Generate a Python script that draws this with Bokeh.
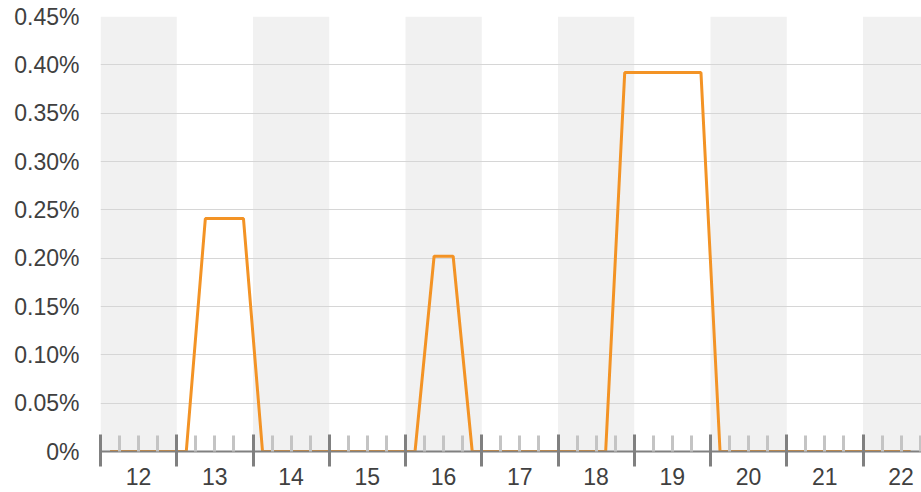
from bokeh.plotting import figure
from bokeh.models import LinearAxis, FixedTicker, Range1d, ColumnDataSource, CustomJSTickFormatter
from bokeh.embed import file_html
from bokeh.resources import INLINE

# ---- data ----
hour_labels = ["12", "13", "14", "15", "16", "17", "18", "19", "20", "21", "22"]
quarters_per_hour = 4
# share (in %) for each quarter-hour
share_pct = [
    0, 0, 0, 0,                  # 12
    0, 0.241, 0.241, 0.241,      # 13
    0, 0, 0, 0,                  # 14
    0, 0, 0, 0,                  # 15
    0, 0.202, 0.202, 0,          # 16
    0, 0, 0, 0,                  # 17
    0, 0, 0, 0.392,              # 18
    0.392, 0.392, 0.392, 0.392,  # 19
    0, 0, 0, 0,                  # 20
    0, 0, 0, 0,                  # 21
    0, 0, 0,                     # 22
]
y_ticks = [0, 0.05, 0.10, 0.15, 0.20, 0.25, 0.30, 0.35, 0.40, 0.45]
y_tick_labels = ["0%", "0.05%", "0.10%", "0.15%", "0.20%", "0.25%", "0.30%", "0.35%", "0.40%", "0.45%"]

n_hours = len(hour_labels)
x_pos = [(i + 0.5) / quarters_per_hour for i in range(len(share_pct))]

FONT = "Liberation Sans"
TEXT = "#404040"

W, H = 921, 492
LEFT, TOP, BOTTOM = 100, 16, 41
x_end = (W - LEFT) / 76.25

p = figure(width=W, height=H, output_backend="svg", toolbar_location=None,
           x_range=Range1d(0, x_end), y_range=Range1d(0, 0.45),
           min_border_left=LEFT, min_border_right=0, min_border_top=TOP,
           min_border_bottom=BOTTOM)
p.outline_line_color = None
p.background_fill_color = "white"
p.border_fill_color = "white"

# alternating bands
band_left = [i for i in range(n_hours) if i % 2 == 0]
band_src = ColumnDataSource(dict(left=band_left, right=[b + 1 for b in band_left]))
bands = p.quad(left="left", right="right", bottom=0, top=0.45, source=band_src,
               fill_color="#f1f1f1", line_color=None)
bands.level = "image"

p.xgrid.visible = False
p.ygrid.ticker = FixedTicker(ticks=y_ticks)
p.ygrid.grid_line_color = "#d6d6d6"
p.ygrid.grid_line_width = 1

p.line(x_pos, share_pct, line_color="#f39325", line_width=3)

# y axis
ya = p.yaxis[0]
ya.ticker = FixedTicker(ticks=y_ticks)
ya.major_label_overrides = {t: l for t, l in zip(y_ticks, y_tick_labels)}
ya.axis_line_color = None
ya.major_tick_line_color = None
ya.minor_tick_line_color = None
ya.major_tick_in = 0
ya.major_tick_out = 0
ya.major_label_standoff = 21
ya.major_label_text_font = FONT
ya.major_label_text_font_size = "23px"
ya.major_label_text_color = TEXT

# x tick axis (hour boundaries, no labels)
xa = p.xaxis[0]
xa.ticker = FixedTicker(ticks=list(range(n_hours + 1)),
                        minor_ticks=[h + q / quarters_per_hour for h in range(n_hours)
                                     for q in range(1, quarters_per_hour)])
xa.formatter = CustomJSTickFormatter(code="return ''")
xa.axis_line_color = "#808080"
xa.axis_line_width = 2
xa.major_tick_line_color = "#808080"
xa.major_tick_line_width = 3
xa.major_tick_in = 17
xa.major_tick_out = 15
xa.minor_tick_line_color = "#c4c4c4"
xa.minor_tick_line_width = 3
xa.minor_tick_in = 16
xa.minor_tick_out = 0
xa.major_label_text_font_size = "1px"
xa.major_label_standoff = 0

# x label axis (hour centers)
centers = [i + 0.5 for i in range(n_hours)]
xl = LinearAxis(ticker=FixedTicker(ticks=centers),
                major_label_overrides={c: l for c, l in zip(centers, hour_labels)})
xl.axis_line_color = None
xl.major_tick_line_color = None
xl.minor_tick_line_color = None
xl.major_tick_in = 0
xl.major_tick_out = 0
xl.minor_tick_in = 0
xl.minor_tick_out = 0
xl.major_label_standoff = 1
xl.major_label_text_font = FONT
xl.major_label_text_font_size = "23px"
xl.major_label_text_color = TEXT
p.add_layout(xl, "below")

open("out.html", "w").write(file_html(p, INLINE))
